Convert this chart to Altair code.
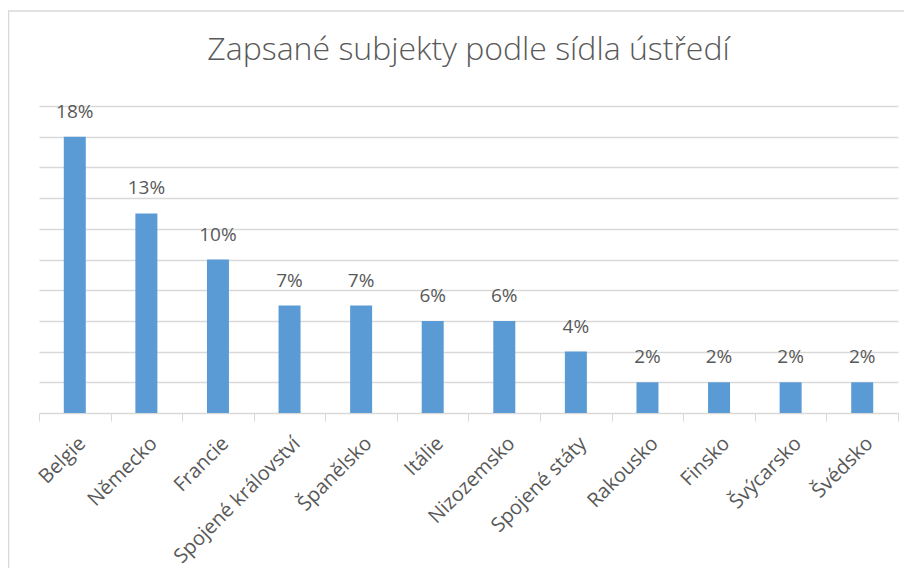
import altair as alt
import pandas as pd

countries = ["Belgie", "Německo", "Francie", "Spojené království", "Španělsko", "Itálie",
             "Nizozemsko", "Spojené státy", "Rakousko", "Finsko", "Švýcarsko", "Švédsko"]
shares = [0.18, 0.13, 0.10, 0.07, 0.07, 0.06, 0.06, 0.04, 0.02, 0.02, 0.02, 0.02]

df = pd.DataFrame({"country": countries, "share": shares})

FONT = "Open Sans"
TXT = "#595959"
GRID = "#d9d9d9"

x = alt.X("country:N", sort=countries, title=None,
          scale=alt.Scale(paddingInner=0, paddingOuter=0),
          axis=alt.Axis(labelAngle=-45, labelFont=FONT, labelFontSize=20, labelColor=TXT,
                        domainColor=GRID, tickColor=GRID, tickSize=8, tickBand="extent",
                        labelPadding=12, grid=False))
y = alt.Y("share:Q", title=None,
          scale=alt.Scale(domain=[0, 0.2], nice=False),
          axis=alt.Axis(values=[i / 100 for i in range(0, 21, 2)], labels=False, ticks=False,
                        domain=False, gridColor=GRID, gridWidth=1.3))

base = alt.Chart(df)
bars = base.mark_bar(size=22, color="#5b9bd5").encode(x=x, y=y)
labels = base.mark_text(font=FONT, fontSize=19, color=TXT, baseline="alphabetic", dy=-19).encode(
    x=x, y=y, text=alt.Text("share:Q", format=".0%"))

frame = alt.Chart(pd.DataFrame({"a": [0]})).mark_rect(fill=None, stroke=GRID, strokeWidth=1.5).encode(
    x=alt.value(-30.5), x2=alt.value(900), y=alt.value(-95), y2=alt.value(520))

chart = alt.layer(frame, bars, labels).properties(
    width=859, height=307,
    autosize=alt.AutoSizeParams(type="none"),
    padding={"left": 31, "top": 98, "right": 6, "bottom": 155},
    title=alt.TitleParams("Zapsané subjekty podle sídla ústředí", font=FONT, fontSize=32,
                          fontWeight=300, color=TXT, anchor="middle", baseline="alphabetic",
                          offset=-82),
).configure_view(stroke=None)

chart.save("out.html", embed_options={"renderer": "svg", "actions": False})
